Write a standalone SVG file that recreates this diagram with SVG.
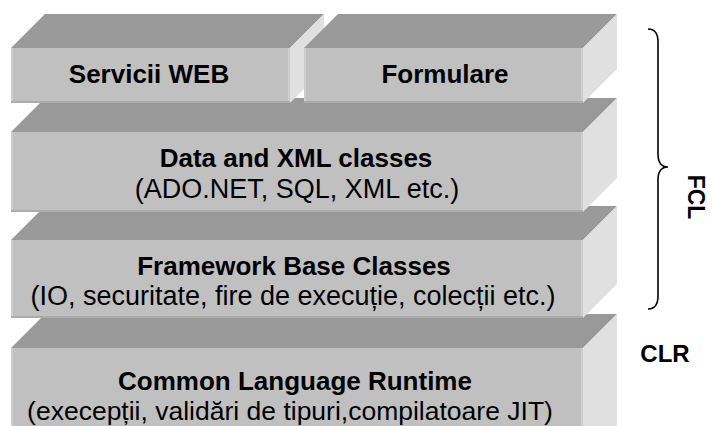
<svg xmlns="http://www.w3.org/2000/svg" width="712" height="426" viewBox="0 0 712 426">
<style>
.top{fill:#999999}
.front{fill:#c0c0c0}
.side{fill:#e0e0e0}
.edgeL{stroke:#cecece;stroke-width:2}
.edgeB{stroke:#acacac;stroke-width:2}
text{font-family:"Liberation Sans",Arial,sans-serif;fill:#000;text-anchor:middle}
.b{font-weight:bold;font-size:26px}
.r{font-size:27px}
.brace{fill:none;stroke:#000;stroke-width:1.6}
</style>
<rect width="712" height="426" fill="#ffffff"/>

<g id="layer-clr">
<polygon class="top" points="11,348 45,314 617,314 583,348"/>
<polygon class="side" points="583,348 617,314 617,426 583,426"/>
<rect class="front" x="11" y="348" width="572" height="80"/>
<line class="edgeL" x1="12" y1="348" x2="12" y2="426"/>
<line class="edgeL" x1="582" y1="348" x2="582" y2="426"/>
<text class="b" x="295" y="390">Common Language Runtime</text>
<text class="r" style="font-size:26.5px" x="290" y="420">(execepții, validări de tipuri,compilatoare JIT)</text>
</g>

<g id="layer-base">
<polygon class="top" points="11,240 45,206 617,206 583,240"/>
<polygon class="side" points="583,240 617,206 617,284 583,318"/>
<rect class="front" x="11" y="240" width="572" height="78"/>
<line class="edgeL" x1="12" y1="240" x2="12" y2="317"/>
<line class="edgeL" x1="582" y1="240" x2="582" y2="317"/>
<line class="edgeB" x1="11" y1="317" x2="583" y2="317"/>
<text class="b" x="294" y="275">Framework Base Classes</text>
<text class="r" x="293" y="305">(IO, securitate, fire de execuție, colecții etc.)</text>
</g>

<g id="layer-data">
<polygon class="top" points="11,132 45,98 617,98 583,132"/>
<polygon class="side" points="583,132 617,98 617,178 583,212"/>
<rect class="front" x="11" y="132" width="572" height="80"/>
<line class="edgeL" x1="12" y1="132" x2="12" y2="211"/>
<line class="edgeL" x1="582" y1="132" x2="582" y2="211"/>
<line class="edgeB" x1="11" y1="211" x2="583" y2="211"/>
<text class="b" x="296" y="167">Data and XML classes</text>
<text class="r" x="297" y="198">(ADO.NET, SQL, XML etc.)</text>
</g>

<g id="servicii-web">
<polygon class="top" points="11,48 45,14 324,14 290,48"/>
<polygon class="side" points="290,48 324,14 324,69 290,103"/>
<rect class="front" x="11" y="48" width="279" height="55"/>
<line class="edgeL" x1="12" y1="48" x2="12" y2="102"/>
<line class="edgeL" x1="289" y1="48" x2="289" y2="102"/>
<line class="edgeB" x1="11" y1="102" x2="290" y2="102"/>
<text class="b" x="149" y="83">Servicii WEB</text>
</g>

<g id="formulare">
<polygon class="top" points="304,48 338,14 617,14 583,48"/>
<polygon class="side" points="583,48 617,14 617,69 583,103"/>
<rect class="front" x="304" y="48" width="279" height="55"/>
<line class="edgeL" x1="305" y1="48" x2="305" y2="102"/>
<line class="edgeL" x1="582" y1="48" x2="582" y2="102"/>
<line class="edgeB" x1="304" y1="102" x2="583" y2="102"/>
<text class="b" x="445" y="83">Formulare</text>
</g>

<g id="connectors">
<path class="brace" d="M648,29 C655,29 658,34 658,42 L658,154 C658,162 661,167 668,167 C661,167 658,172 658,180 L658,296 C658,304 655,309 648,309"/>
</g>

<g id="labels">
<text class="b" style="font-size:23px" transform="translate(688,197) rotate(90)">FCL</text>
<text class="b" style="font-size:24px" x="665" y="362">CLR</text>
</g>
</svg>
